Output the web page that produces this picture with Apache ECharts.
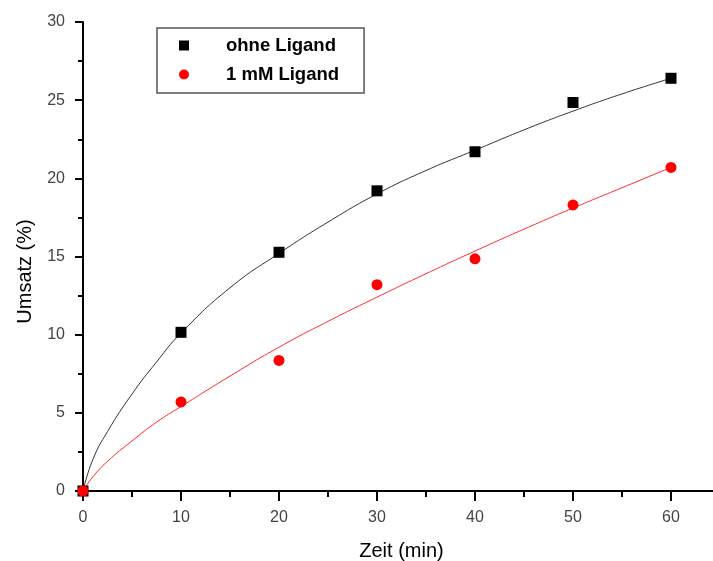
<!DOCTYPE html>
<html>
<head>
<meta charset="utf-8">
<script src="https://cdn.jsdelivr.net/npm/echarts@6/dist/echarts.min.js"></script>
<style>
  html, body { margin: 0; padding: 0; background: #fff; }
  #chart { width: 713px; height: 561px; }
</style>
</head>
<body>
<div id="chart"></div>
<script>
// Messpunkte
var zeit = [0, 10, 20, 30, 40, 50, 60];
var ohneLigand = [0, 10.15, 15.27, 19.2, 21.7, 24.85, 26.4];
var mitLigand = [0, 5.7, 8.35, 13.2, 14.85, 18.3, 20.7];

// Fitkurven
var fitX = [0, 1, 2.5, 5, 7.5, 10, 15, 20, 25, 30, 35, 40, 45, 50, 55, 60];
var fitOhneY = [0, 2.0, 3.8, 6.2, 8.25, 10.1, 13.0, 15.2, 17.2, 19.0, 20.5, 21.8, 23.1, 24.3, 25.4, 26.4];
var fitMitY = [0, 0.9, 1.9, 3.2, 4.4, 5.4, 7.35, 9.2, 10.85, 12.4, 13.9, 15.35, 16.75, 18.1, 19.4, 20.7];

function pairs(xs, ys) {
  var out = [];
  for (var i = 0; i < xs.length; i++) {
    out.push([xs[i], ys[i]]);
  }
  return out;
}

var chart = echarts.init(document.getElementById('chart'));
var font = '"Liberation Sans", Arial, sans-serif';

var option = {
  animation: false,
  grid: {
    left: 83,
    top: 22,
    width: 637,
    height: 469,
    outerBoundsMode: 'none'
  },
  legend: {
    data: [
      { name: 'ohne Ligand', icon: 'rect' },
      { name: '1 mM Ligand', icon: 'circle' }
    ],
    orient: 'vertical',
    left: 157,
    top: 28,
    itemWidth: 10,
    itemHeight: 10,
    itemGap: 10,
    padding: [8, 25, 9, 22],
    borderColor: '#555',
    borderWidth: 1.5,
    selectedMode: false,
    textStyle: {
      fontFamily: font,
      fontSize: 18.5,
      fontWeight: 'bold',
      color: '#000',
      lineHeight: 19,
      padding: [0, 0, 0, 32]
    }
  },
  xAxis: {
    type: 'value',
    min: 0,
    max: 65,
    interval: 10,
    name: 'Zeit (min)',
    nameLocation: 'middle',
    nameGap: 50,
    nameTextStyle: { fontFamily: font, fontSize: 20, color: '#000' },
    splitLine: { show: false },
    axisLine: { lineStyle: { color: '#000', width: 2 } },
    axisTick: { length: 10, lineStyle: { color: '#000', width: 2 } },
    minorTick: { show: true, splitNumber: 2, length: 6, lineStyle: { color: '#000', width: 2 } },
    axisLabel: { margin: 19, fontFamily: font, fontSize: 16, color: '#444', showMaxLabel: false }
  },
  yAxis: {
    type: 'value',
    min: 0,
    max: 30,
    interval: 5,
    name: 'Umsatz (%)',
    nameLocation: 'middle',
    nameGap: 48,
    nameTextStyle: { fontFamily: font, fontSize: 20, color: '#000', padding: [0, 30, 0, 0] },
    splitLine: { show: false },
    axisLine: { lineStyle: { color: '#000', width: 2 } },
    axisTick: { length: 8, lineStyle: { color: '#000', width: 2 } },
    minorTick: { show: true, splitNumber: 2, length: 5, lineStyle: { color: '#000', width: 2 } },
    axisLabel: { margin: 18, fontFamily: font, fontSize: 16, color: '#444' }
  },
  series: [
    {
      name: 'fit ohne',
      type: 'line',
      smooth: true,
      symbol: 'none',
      data: pairs(fitX, fitOhneY),
      lineStyle: { color: '#333', width: 1 },
      z: 2
    },
    {
      name: 'fit mit',
      type: 'line',
      smooth: true,
      symbol: 'none',
      data: pairs(fitX, fitMitY),
      lineStyle: { color: '#ff2a2a', width: 1 },
      z: 2
    },
    {
      name: 'ohne Ligand',
      type: 'scatter',
      symbol: 'rect',
      symbolSize: 11,
      itemStyle: { color: '#000', opacity: 1 },
      data: pairs(zeit, ohneLigand),
      z: 3
    },
    {
      name: '1 mM Ligand',
      type: 'scatter',
      symbol: 'circle',
      symbolSize: 11,
      itemStyle: { color: '#ff0000', opacity: 1 },
      data: pairs(zeit, mitLigand),
      z: 4
    }
  ]
};

chart.setOption(option);
</script>
</body>
</html>
